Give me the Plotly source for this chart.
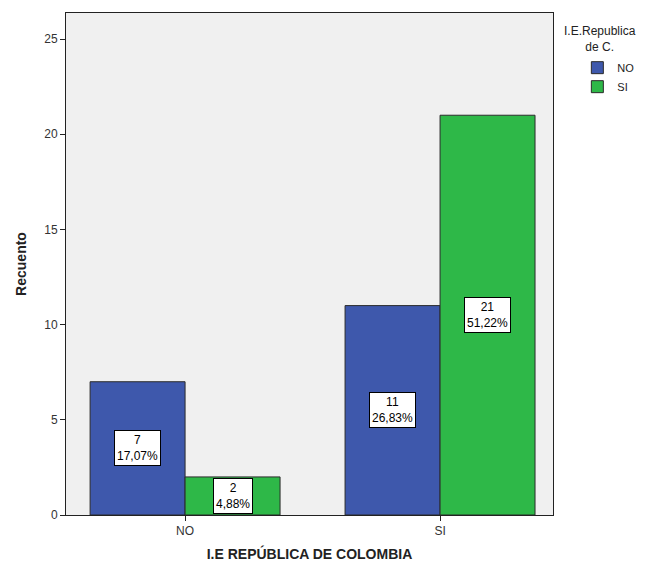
import plotly.graph_objects as go

categories = ["NO", "SI"]
series_names = ["NO", "SI"]
counts_no = [7, 11]
counts_si = [2, 21]
pct_no = ["17,07%", "26,83%"]
pct_si = ["4,88%", "51,22%"]
colors = ["#3E58AC", "#2EB848"]

fig = go.Figure()
for name, vals, col in zip(series_names, [counts_no, counts_si], colors):
    fig.add_trace(go.Bar(
        x=categories, y=vals, name=name,
        marker=dict(color=col, line=dict(color="#2b2b2b", width=1)),
    ))

annotations = []
for i, cat in enumerate(categories):
    for vals, pcts, shift in [(counts_no, pct_no, -47.5), (counts_si, pct_si, 47.5)]:
        annotations.append(dict(
            x=cat, y=vals[i] / 2, xref="x", yref="y", xshift=shift,
            text=f"{vals[i]}<br>{pcts[i]}", showarrow=False,
            font=dict(family="Liberation Sans, Arial", size=12, color="black"),
            bgcolor="white", bordercolor="black", borderwidth=1, borderpad=2,
            align="center",
        ))

annotations.append(dict(
    x=1.097, y=0.982, xref="paper", yref="paper", xanchor="center", yanchor="top",
    text="I.E.Republica<br>de C.", showarrow=False, align="center",
    font=dict(family="Liberation Sans, Arial", size=12, color="#222"),
))

fig.update_layout(
    width=654, height=559,
    margin=dict(l=58, r=109, t=5, b=52, autoexpand=False),
    paper_bgcolor="white", plot_bgcolor="#F0F0F0",
    barmode="group", bargap=0.255, bargroupgap=0,
    font=dict(family="Liberation Sans, Arial", size=11, color="#222"),
    showlegend=True,
    legend=dict(x=1.05, y=0.92, xanchor="left", yanchor="top",
                font=dict(size=11, color="#222"), tracegroupgap=0,
                itemwidth=30, bgcolor="rgba(0,0,0,0)"),
    annotations=annotations,
)
fig.update_xaxes(
    range=[-0.467, 1.443], showline=True, linecolor="#222", linewidth=1, mirror=True,
    ticks="outside", ticklen=5, tickcolor="#222", showgrid=False,
    tickfont=dict(size=12, color="#333"),
    title=dict(text="<b>I.E REPÚBLICA DE COLOMBIA</b>", font=dict(size=14, color="#222"), standoff=11),
)
fig.update_yaxes(
    range=[0, 26.37], showline=True, linecolor="#222", linewidth=1, mirror=True,
    ticks="outside", ticklen=5, tickcolor="#222", showgrid=False, zeroline=False,
    tickvals=[0, 5, 10, 15, 20, 25], tickfont=dict(size=12, color="#333"),
    title=dict(text="<b>Recuento</b>", font=dict(size=14, color="#222"), standoff=14),
)

fig.write_html("out.html")
